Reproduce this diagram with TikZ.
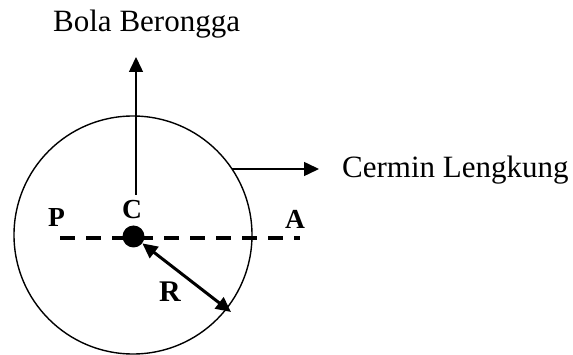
\documentclass[tikz,border=0pt]{standalone}
\usepackage{fontspec}
\setmainfont{Liberation Serif}
\usetikzlibrary{arrows.meta,shapes.geometric}
\begin{document}
\begin{tikzpicture}[x=1pt,y=-1pt,
  lbl/.style={font=\fontsize{31}{32}\selectfont, inner sep=0pt, anchor=base west},
  ptlbl/.style={font=\bfseries\fontsize{27.5}{29}\selectfont, inner sep=0pt},
  thinarrow/.style={line width=1.5pt, -{Triangle[length=15pt,width=14pt]}},
  radarrow/.style={line width=3pt, {Triangle[length=15pt,width=14pt]}-{Triangle[length=15pt,width=14pt]}},
  axis/.style={line width=4pt, dash pattern=on 15pt off 11pt},
  sphere/.style={draw, line width=1.4pt, circle, minimum size=238pt, inner sep=0pt},
  centre/.style={fill, circle, minimum size=22pt, inner sep=0pt}]
\useasboundingbox (0,0) rectangle (573,355);
% sphere
\node[sphere] (bola) at (133,235) {};
% labels
\node[lbl] (tbola) at (53,32) {Bola Berongga};
\node[lbl] (tcermin) at (342,178) {Cermin Lengkung};
% axis
\coordinate (pl) at (60,238);
\coordinate (pr) at (300,238);
\draw[axis] (pl) -- (pr);
% centre
\node[centre] (c) at (133.5,236.5) {};
\node[ptlbl] (lc) at (132,210) {C};
\node[ptlbl] (lp) at (56.5,217.5) {P};
\node[ptlbl] (la) at (295,219.5) {A};
\node[ptlbl, font=\bfseries\fontsize{30}{31}\selectfont] (lr) at (170,292) {R};
% arrows
\coordinate (vb) at (136,195);
\coordinate (vt) at (136,57);
\draw[thinarrow] (vb) -- (vt);
\coordinate (hb) at (232,169);
\coordinate (ht) at (319,169);
\draw[thinarrow] (hb) -- (ht);
\coordinate (rend) at (231,312);
\draw[radarrow] (c) -- (rend);
\end{tikzpicture}
\end{document}
